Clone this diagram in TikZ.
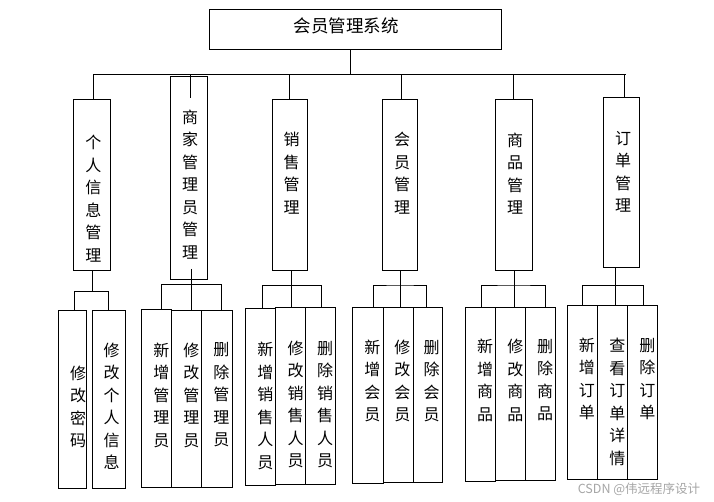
\documentclass[tikz,border=0pt]{standalone}
\usepackage{fontspec}
\newfontfamily\cjk{Noto Sans CJK SC}
\tikzset{
  bx/.style={draw, line width=1pt, inner sep=0pt, outer sep=0pt},
  vt/.style={align=center, inner sep=0pt, font=\cjk\fontsize{16}{22.5}\selectfont},
  ln/.style={line width=1pt}
}
\newcommand\mybox[5]{%
  \node[bx, minimum width={(#4-#2)*1pt}, minimum height={(#5-#3)*1pt}] (#1) at ({(#2+#4)/2},{(#3+#5)/2}) {};}
\begin{document}
\begin{tikzpicture}[x=1pt,y=-1pt]
\useasboundingbox[fill=white] (0,0) rectangle (714,502);
% top
\mybox{top}{209}{9.3}{501.3}{49.3}
\node[font=\cjk\fontsize{17.5}{20}\selectfont, inner sep=0pt] (tt) at (346,26) {会员管理系统};
% level 1 boxes
\mybox{A}{73.3}{100}{110.3}{271}
\mybox{B}{170.5}{76.3}{207.3}{279.3}
\mybox{C}{272.3}{100}{307.3}{270.3}
\mybox{D}{382.3}{100}{417.3}{270.3}
\mybox{E}{495.3}{99.3}{532.3}{270.3}
\mybox{F}{603.3}{97.3}{639.3}{267.3}
\node[vt] (At) at (93.3,198.5) {个\\人\\信\\息\\管\\理};
\node[vt] (Bt) at (190,184.2) {商\\家\\管\\理\\员\\管\\理};
\node[vt] (Ct) at (291.7,173.3) {销\\售\\管\\理};
\node[vt] (Dt) at (402,173.3) {会\\员\\管\\理};
\node[vt] (Et) at (515.2,173.5) {商\\品\\管\\理};
\node[vt] (Ft) at (623,171.7) {订\\单\\管\\理};
% leaf boxes
\mybox{A1}{58.3}{310.7}{86.7}{488.3}
\mybox{A2}{92.7}{310.7}{125.3}{488.3}
\mybox{B1}{141.7}{309.3}{171.7}{487.3}
\mybox{B2}{171.7}{310.3}{201.7}{487.3}
\mybox{B3}{201.7}{310.3}{232.3}{487.3}
\mybox{C1}{245.7}{308.3}{275.7}{485.3}
\mybox{C2}{275.7}{307.3}{305.7}{484.3}
\mybox{C3}{305.7}{307.3}{335.3}{484.3}
\mybox{D1}{352.7}{307.3}{383.3}{483.3}
\mybox{D2}{383.3}{307.3}{413.3}{482.3}
\mybox{D3}{413.3}{307.3}{442.3}{482.3}
\mybox{E1}{465.3}{307.3}{495.7}{481.3}
\mybox{E2}{495.7}{307.3}{525.7}{480}
\mybox{E3}{525.7}{307.3}{555.7}{480}
\mybox{F1}{567.3}{305.3}{597.3}{479.3}
\mybox{F2}{597.3}{305.3}{627.3}{479.3}
\mybox{F3}{627.3}{305.3}{657.3}{479.3}
\node[vt] (A1t) at (78,407) {修\\改\\密\\码};
\node[vt] (A2t) at (111.7,406.3) {修\\改\\个\\人\\信\\息};
\node[vt] (B1t) at (161.3,395) {新\\增\\管\\理\\员};
\node[vt] (B2t) at (191.3,395) {修\\改\\管\\理\\员};
\node[vt] (B3t) at (221.3,395) {删\\除\\管\\理\\员};
\node[vt] (C1t) at (265.3,406) {新\\增\\销\\售\\人\\员};
\node[vt] (C2t) at (295.7,404.5) {修\\改\\销\\售\\人\\员};
\node[vt] (C3t) at (325,404.5) {删\\除\\销\\售\\人\\员};
\node[vt] (D1t) at (372.3,381) {新\\增\\会\\员};
\node[vt] (D2t) at (402.3,381) {修\\改\\会\\员};
\node[vt] (D3t) at (431.7,381) {删\\除\\会\\员};
\node[vt] (E1t) at (485,380.3) {新\\增\\商\\品};
\node[vt] (E2t) at (515.3,380.3) {修\\改\\商\\品};
\node[vt] (E3t) at (545,380.3) {删\\除\\商\\品};
\node[vt] (F1t) at (586.8,378.8) {新\\增\\订\\单};
\node[vt] (F2t) at (617.3,401.7) {查\\看\\订\\单\\详\\情};
\node[vt] (F3t) at (647.3,378.8) {删\\除\\订\\单};
% level-1 connectors
\coordinate (j0) at (350.7,74.3);
\coordinate (busL) at (93.3,74.3);
\coordinate (busR) at (626,74.3);
\draw[ln] (top.south -| j0) -- (j0);
\draw[ln] (busL) -- (busR);
\draw[ln] (busL) -- (A.north -| busL);
\coordinate (dB) at (190.3,74.3);
\coordinate (dBe) at (190.3,97.7);
\draw[ln] (dB) -- (dBe);
\draw[ln] (289.3,74.3) -- (C.north -| 289.3,0);
\draw[ln] (401.3,74.3) -- (D.north -| 401.3,0);
\draw[ln] (513.3,74.3) -- (E.north -| 513.3,0);
\draw[ln] (624,74.3) -- (F.north -| 624,0);
% level-2 connectors
\coordinate (hA) at (92.3,291.3);
\draw[ln] (A.south -| hA) -- (hA);
\draw[ln] (A1.north -| 74,0) |- (hA) -| (A2.north -| 108.3,0);
\coordinate (hB) at (191.7,284.7);
\coordinate (hBs) at (191.7,269);
\draw[ln] (hBs) -- (B2.north -| hBs);
\draw[ln] (B1.north -| 161.3,0) |- (hB) -| (B3.north -| 221.3,0);
\coordinate (hC) at (291.7,285.3);
\draw[ln] (C.south -| hC) -- (C2.north -| hC);
\draw[ln] (C1.north -| 262.3,0) |- (hC) -| (C3.north -| 321.7,0);
\coordinate (hD) at (400.3,286);
\draw[ln] (D.south -| hD) -- (D2.north -| hD);
\draw[ln] (D1.north -| 373.3,0) |- (hD) -| (D3.north -| 426.3,0);
\coordinate (hE) at (514.3,286);
\draw[ln] (E.south -| hE) -- (E2.north -| hE);
\draw[ln] (E1.north -| 481.3,0) |- (hE) -| (E3.north -| 545.3,0);
\coordinate (hF) at (615.3,285.3);
\draw[ln] (F.south -| hF) -- (F2.north -| hF);
\draw[ln] (F1.north -| 582.3,0) |- (hF) -| (F3.north -| 643.3,0);
% watermark
\node[text=black!35, font=\cjk\fontsize{12.5}{14}\selectfont, inner sep=0pt] (wm) at (639,489.3) {CSDN @伟远程序设计};
\end{tikzpicture}
\end{document}
